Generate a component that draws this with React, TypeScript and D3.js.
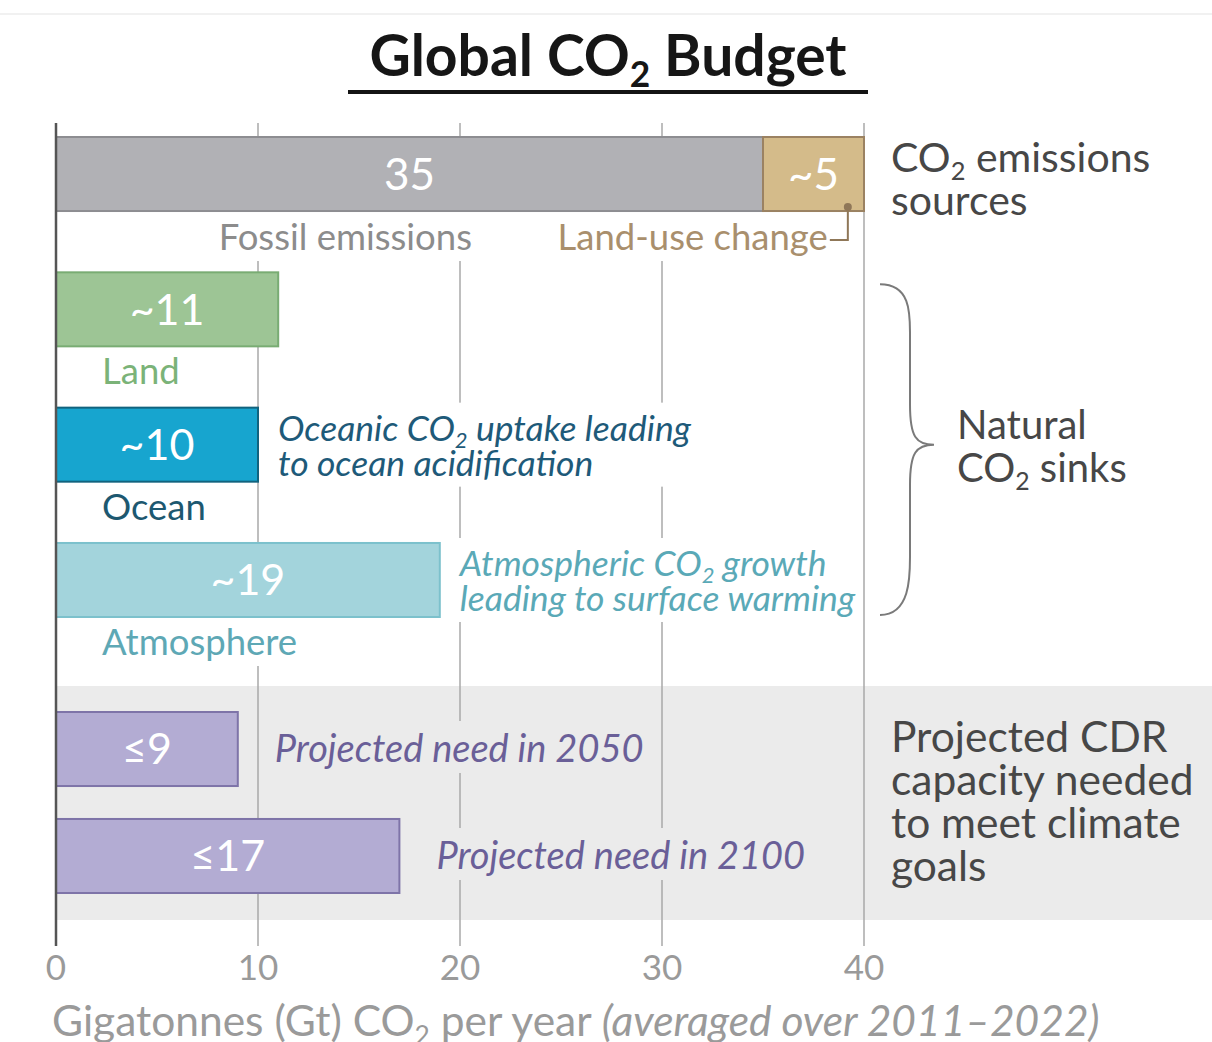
import * as d3 from "d3";
import { useEffect, useLayoutEffect, useRef, useState } from "react";

// values in Gt CO2 per year (averaged 2011–2022)
const sources = [
  { key: "Fossil emissions", value: 35, text: "35" },
  { key: "Land-use change", value: 5, text: "~5" },
];
const sinks = [
  { key: "Land", value: 11, text: "~11" },
  { key: "Ocean", value: 10, text: "~10" },
  { key: "Atmosphere", value: 19, text: "~19" },
];
const sinkNotes: Record<string, string[]> = {
  Ocean: ["Oceanic CO₂ uptake leading", "to ocean acidification"],
  Atmosphere: ["Atmospheric CO₂ growth", "leading to surface warming"],
};
const cdr = [
  { key: "2050", value: 9, text: "≤9" },
  { key: "2100", value: 17, text: "≤17" },
];
const xTicks = [0, 10, 20, 30, 40];
const groupLabels = {
  sources: ["CO₂ emissions", "sources"],
  sinks: ["Natural", "CO₂ sinks"],
  cdr: ["Projected CDR", "capacity needed", "to meet climate", "goals"],
};

const W = 1212;
const H = 1042;
const FONT = "Lato, 'Open Sans', sans-serif";

const colors = {
  fossil: ["#b1b1b5", "#8d8d91"],
  landuse: ["#d4bb8a", "#9b8262"],
  Land: ["#9dc595", "#79ac73"],
  Ocean: ["#17a5cf", "#11637e"],
  Atmosphere: ["#a3d4dc", "#7cc1cc"],
  cdr: ["#b3acd3", "#7e74a8"],
};
const labelColor: Record<string, string> = {
  Land: "#7bb378",
  Ocean: "#1d5870",
  Atmosphere: "#5ea8b5",
};
const noteColor: Record<string, string> = {
  Ocean: "#1e5a79",
  Atmosphere: "#5aa9b7",
};

// render "CO₂" with a real subscript
function sub(str: string, size: number) {
  const parts = str.split("₂");
  const out: any[] = [];
  parts.forEach((p, i) => {
    if (i > 0) {
      out.push(
        <tspan key={"s" + i} fontSize={size * 0.62} dy={size * 0.2}>
          2
        </tspan>
      );
      out.push(
        <tspan key={"p" + i} dy={-size * 0.2}>
          {p}
        </tspan>
      );
    } else out.push(<tspan key={"p" + i}>{p}</tspan>);
  });
  return out;
}

type Box = { x: number; y: number; w: number; h: number; fill: string };

export default function App() {
  const svgRef = useRef<SVGSVGElement>(null);
  const [boxes, setBoxes] = useState<Box[]>([]);

  useEffect(() => {
    document.body.style.margin = "0";
  }, []);

  // measure text blocks that knock out the gridlines behind them
  useLayoutEffect(() => {
    const measure = () => {
      if (!svgRef.current) return;
      const out: Box[] = [];
      svgRef.current.querySelectorAll<SVGGElement>("g.ko").forEach((g) => {
        const b = g.getBBox();
        out.push({ x: b.x - 4, y: b.y - 3, w: b.width + 8, h: b.height + 6, fill: g.dataset.bg || "#fff" });
      });
      setBoxes(out);
    };
    measure();
    (document as any).fonts?.ready?.then(measure);
  }, []);

  const x = d3.scaleLinear().domain([0, 40]).range([56, 864]);

  const yTop = d3
    .scaleBand<string>()
    .domain(["sources", ...sinks.map((d) => d.key)])
    .range([137, 617])
    .paddingInner(0.453)
    .paddingOuter(0);
  const yCdr = d3
    .scaleBand<string>()
    .domain(cdr.map((d) => d.key))
    .range([712, 893])
    .paddingInner(0.308)
    .paddingOuter(0);
  const bw = yTop.bandwidth();

  const stacked = d3
    .stack<any>()
    .keys(sources.map((d) => d.key))([
    Object.fromEntries(sources.map((d) => [d.key, d.value])),
  ]);

  const gridTop = 123;
  const gridBottom = 946;

  const sy = yTop("sources")!;
  const sinkTop = yTop(sinks[0].key)!;
  const sinkBot = yTop(sinks[sinks.length - 1].key)! + bw;
  const braceX = 880;
  const braceMid = (sinkTop + sinkBot) / 2;
  const brace = `M${braceX},${sinkTop + 12} C${braceX + 30},${sinkTop + 12} ${braceX + 30},${sinkTop + 40} ${braceX + 30},${sinkTop + 60}
    L${braceX + 30},${braceMid - 40} C${braceX + 30},${braceMid - 8} ${braceX + 36},${braceMid} ${braceX + 54},${braceMid}
    C${braceX + 36},${braceMid} ${braceX + 30},${braceMid + 8} ${braceX + 30},${braceMid + 40}
    L${braceX + 30},${sinkBot - 60} C${braceX + 30},${sinkBot - 40} ${braceX + 30},${sinkBot - 2} ${braceX},${sinkBot - 2}`;

  const landUse = stacked[1][0];
  const dotX = x(landUse[0] + 4.2);

  return (
    <svg ref={svgRef} width={W} height={H} style={{ display: "block" }} fontFamily={FONT}>
      <rect width={W} height={H} fill="#fff" />
      <line x1={0} x2={W} y1={14} y2={14} stroke="#f1f1f1" strokeWidth={2} />

      {/* title */}
      <text x={608} y={76} textAnchor="middle" fontSize={57} fontWeight={700} fill="#161616">
        {sub("Global CO₂ Budget", 57)}
      </text>
      <line x1={348} x2={868} y1={92} y2={92} stroke="#141414" strokeWidth={4} />

      {/* CDR background band */}
      <rect x={x(0)} y={686} width={W - x(0)} height={234} fill="#ebebeb" />

      {/* gridlines */}
      {xTicks.slice(1).map((t) => (
        <line key={t} x1={x(t)} x2={x(t)} y1={gridTop} y2={gridBottom} stroke="#a9a9a9" strokeWidth={1.5} />
      ))}

      {/* knock-out boxes behind annotations */}
      {boxes.map((b, i) => (
        <rect key={i} x={b.x} y={b.y} width={b.w} height={b.h} fill={b.fill} />
      ))}

      {/* sources stacked bar */}
      {stacked.map((s, i) => {
        const c = i === 0 ? colors.fossil : colors.landuse;
        const d = s[0];
        return (
          <g key={s.key}>
            <rect x={x(d[0])} y={sy} width={x(d[1]) - x(d[0])} height={bw} fill={c[0]} stroke={c[1]} strokeWidth={2} />
            <text x={(x(d[0]) + x(d[1])) / 2} y={sy + bw / 2} dy="0.36em" textAnchor="middle" fontSize={44} fill="#fff">
              {sources[i].text}
            </text>
          </g>
        );
      })}
      <g className="ko">
        <text x={x(20) + 12} y={sy + bw + 39} textAnchor="end" fontSize={36.5} fill="#8c8c8c">
          {sources[0].key}
        </text>
      </g>
      <g className="ko">
        <text x={dotX - 20} y={sy + bw + 39} textAnchor="end" fontSize={36.5} fill="#a98f6d">
          {sources[1].key}
        </text>
      </g>
      <path
        d={`M${dotX - 18},${sy + bw + 29} H${dotX} V${sy + bw - 4}`}
        fill="none"
        stroke="#8f7758"
        strokeWidth={2}
      />
      <circle cx={dotX} cy={sy + bw - 4} r={4} fill="#8f7758" />

      {/* sinks */}
      {sinks.map((d) => {
        const y0 = yTop(d.key)!;
        const c = (colors as any)[d.key];
        const note = sinkNotes[d.key];
        return (
          <g key={d.key}>
            <rect x={x(0)} y={y0} width={x(d.value) - x(0)} height={bw} fill={c[0]} stroke={c[1]} strokeWidth={2} />
            <text x={(x(0) + x(d.value)) / 2} y={y0 + bw / 2} dy="0.36em" textAnchor="middle" fontSize={43} fill="#fff">
              {d.text}
            </text>
            <g className="ko">
              <text x={102} y={y0 + bw + 38} fontSize={36.5} fill={labelColor[d.key]}>
                {d.key}
              </text>
            </g>
            {note && (
              <g className="ko">
                {note.map((line, i) => (
                  <text
                    key={i}
                    x={x(d.value) + 20}
                    y={y0 + bw / 2 - 4 + i * 35}
                    fontSize={35.5}
                    fontStyle="italic"
                    fill={noteColor[d.key]}
                  >
                    {sub(line, 35.5)}
                  </text>
                ))}
              </g>
            )}
          </g>
        );
      })}

      {/* CDR */}
      {cdr.map((d) => {
        const y0 = yCdr(d.key)!;
        return (
          <g key={d.key}>
            <rect
              x={x(0)}
              y={y0}
              width={x(d.value) - x(0)}
              height={yCdr.bandwidth()}
              fill={colors.cdr[0]}
              stroke={colors.cdr[1]}
              strokeWidth={2}
            />
            <text x={(x(0) + x(d.value)) / 2} y={y0 + yCdr.bandwidth() / 2} dy="0.36em" textAnchor="middle" fontSize={43} fill="#fff">
              {d.text}
            </text>
            <g className="ko" data-bg="#ebebeb">
              <text
                x={x(d.value) + 37}
                y={y0 + yCdr.bandwidth() / 2 + 13}
                fontSize={38}
                fontStyle="italic"
                fill="#6a5f98"
              >
                {`Projected need in ${d.key}`}
              </text>
            </g>
          </g>
        );
      })}

      {/* zero axis */}
      <line x1={x(0)} x2={x(0)} y1={gridTop} y2={gridBottom} stroke="#555" strokeWidth={2.5} />

      {/* group labels */}
      {groupLabels.sources.map((l, i) => (
        <text key={l} x={891} y={sy + bw / 2 - 2 + i * 43} fontSize={41} fill="#474747">
          {sub(l, 41)}
        </text>
      ))}
      <path d={brace} fill="none" stroke="#7a7a7a" strokeWidth={2} />
      {groupLabels.sinks.map((l, i) => (
        <text key={l} x={957} y={braceMid - 6 + i * 43} fontSize={40} fill="#474747">
          {sub(l, 40)}
        </text>
      ))}
      {groupLabels.cdr.map((l, i) => (
        <text key={l} x={891} y={752 + i * 43} fontSize={42.5} fill="#474747">
          {l}
        </text>
      ))}

      {/* x axis ticks */}
      {xTicks.map((t) => (
        <text key={t} x={x(t)} y={980} textAnchor="middle" fontSize={35} fill="#9a9a9a">
          {t}
        </text>
      ))}
      <text x={52} y={1036} fontSize={42.5} fill="#9a9a9a">
        {sub("Gigatonnes (Gt) CO₂ per year ", 42.5)}
        <tspan fontStyle="italic">(averaged over 2011–2022)</tspan>
      </text>
    </svg>
  );
}
